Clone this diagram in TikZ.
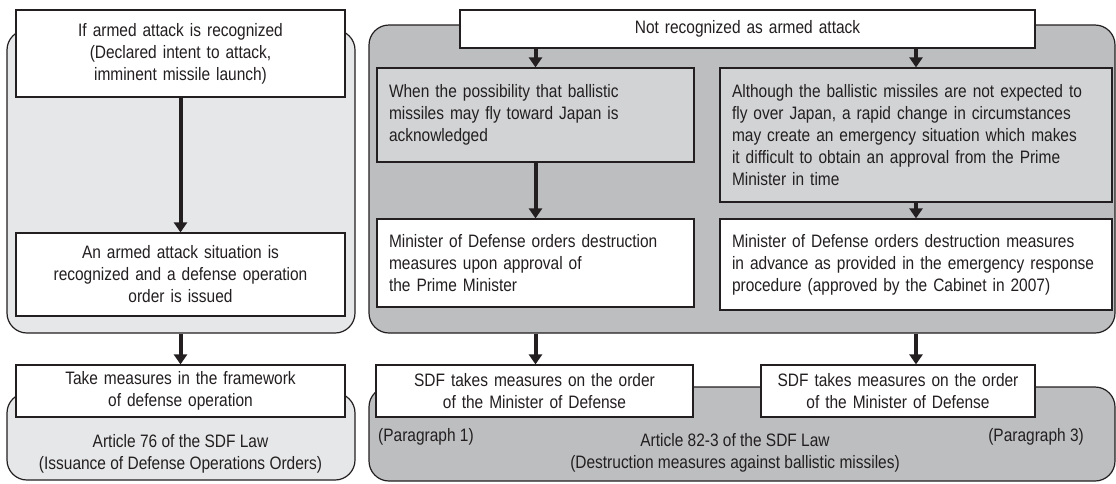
\documentclass[tikz,border=0pt]{standalone}
\usepackage{fontspec}
\setmainfont{Liberation Sans}[FakeStretch=0.86]
\usepackage{xcolor}
\usepackage{tikz}
\usetikzlibrary{positioning, graphs, arrows.meta, calc}
\definecolor{ink}{HTML}{231F20}
\definecolor{lightpanel}{HTML}{E6E7E8}
\definecolor{darkpanel}{HTML}{BCBEC0}
\definecolor{midgray}{HTML}{D1D3D4}
\newcommand{\diagfont}{\fontsize{18}{22}\selectfont}
\tikzset{panel/.style={
    rectangle,
    draw=ink,
    line width=1.2pt,
    rounded corners=20pt,
    inner sep=0pt
}}
\tikzset{box/.style={
    rectangle,
    draw=ink,
    fill=white,
    line width=1.2pt,
    inner xsep=12pt,
    inner ysep=0pt,
    align=center
}}
\tikzset{cond/.style={
    box,
    fill=midgray,
    align=left
}}
\tikzset{caption/.style={
    inner sep=0pt,
    align=center
}}
\tikzset{flow/.style={
    line width=4pt,
    draw=ink
}}

\begin{document}
\begin{tikzpicture}[
    x=1pt, y=-1pt,
    >={Triangle[width=13pt, length=10pt]},
    ink, text=ink, font=\diagfont
]
    \useasboundingbox (0,0) rectangle (1116,483);
    % Panels
    \node (upperL) [panel, fill=lightpanel, minimum width=348pt, minimum height=303pt] at (181,181.5) {};
    \node (upperR) [panel, fill=darkpanel, minimum width=746pt, minimum height=308pt] at (742,179) {};
    \node (lowerL) [panel, fill=lightpanel, minimum width=348pt, minimum height=87pt] at (181,436.5) {};
    \node (lowerR) [panel, fill=darkpanel, minimum width=746pt, minimum height=94pt] at (742,434) {};
    % Left column
    \node (L1) [box, text width=305pt, minimum height=87pt] at (180.5,53.5)
        {If armed attack is recognized\\(Declared intent to attack,\\imminent missile launch)};
    \node (L2) [box, text width=305pt, minimum height=83pt] at (180.5,274.5)
        {An armed attack situation is\\recognized and a defense operation\\order is issued};
    \node (L3) [box, text width=305pt, minimum height=52pt] at (180.5,391)
        {Take measures in the framework\\of defense operation};
    \node (art76) [caption] at (180.5,454)
        {Article 76 of the SDF Law\\(Issuance of Defense Operations Orders)};
    % Right block
    \node (NR) [box, text width=551pt, minimum height=38pt] at (747.5,29)
        {Not recognized as armed attack};
    \node (W) [cond, text width=293pt, minimum height=94pt] at (535.5,115)
        {When the possibility that ballistic\\missiles may fly toward Japan is\\acknowledged};
    \node (A) [cond, text width=368pt, minimum height=134pt] at (916,135)
        {Although the ballistic missiles are not expected to\\fly over Japan, a rapid change in circumstances\\may create an emergency situation which makes\\it difficult to obtain an approval from the Prime\\Minister in time};
    \node (M1) [box, align=left, text width=293pt, minimum height=88pt] at (535.5,263)
        {Minister of Defense orders destruction\\measures upon approval of\\the Prime Minister};
    \node (M2) [box, align=left, text width=368pt, minimum height=91pt] at (916,264.5)
        {Minister of Defense orders destruction measures\\in advance as provided in the emergency response\\procedure (approved by the Cabinet in 2007)};
    \node (S1) [box, text width=293pt, minimum height=52pt] at (534.5,391)
        {SDF takes measures on the order\\of the Minister of Defense};
    \node (S2) [box, text width=250pt, minimum height=52pt] at (898,391)
        {SDF takes measures on the order\\of the Minister of Defense};
    \node (par1) [caption, anchor=west] at (378,437) {(Paragraph 1)};
    \node (par3) [caption, anchor=east] at (1084,437) {(Paragraph 3)};
    \node (art823) [caption] at (735,453)
        {Article 82-3 of the SDF Law\\(Destruction measures against ballistic missiles)};
    % Arrows
    \graph [use existing nodes, edges=flow] {
        L1 -> L2;
        W -> M1;
        A -> M2;
    };
    \draw [flow, ->] (upperL.south -| L3.north) -- (L3.north);
    \draw [flow, ->] (NR.south -| W.north) -- (W.north);
    \draw [flow, ->] (NR.south -| A.north) -- (A.north);
    \draw [flow, ->] (upperR.south -| W.south) -- (S1.north -| W.south);
    \draw [flow, ->] (upperR.south -| A.south) -- (S2.north -| A.south);
\end{tikzpicture}
\end{document}
